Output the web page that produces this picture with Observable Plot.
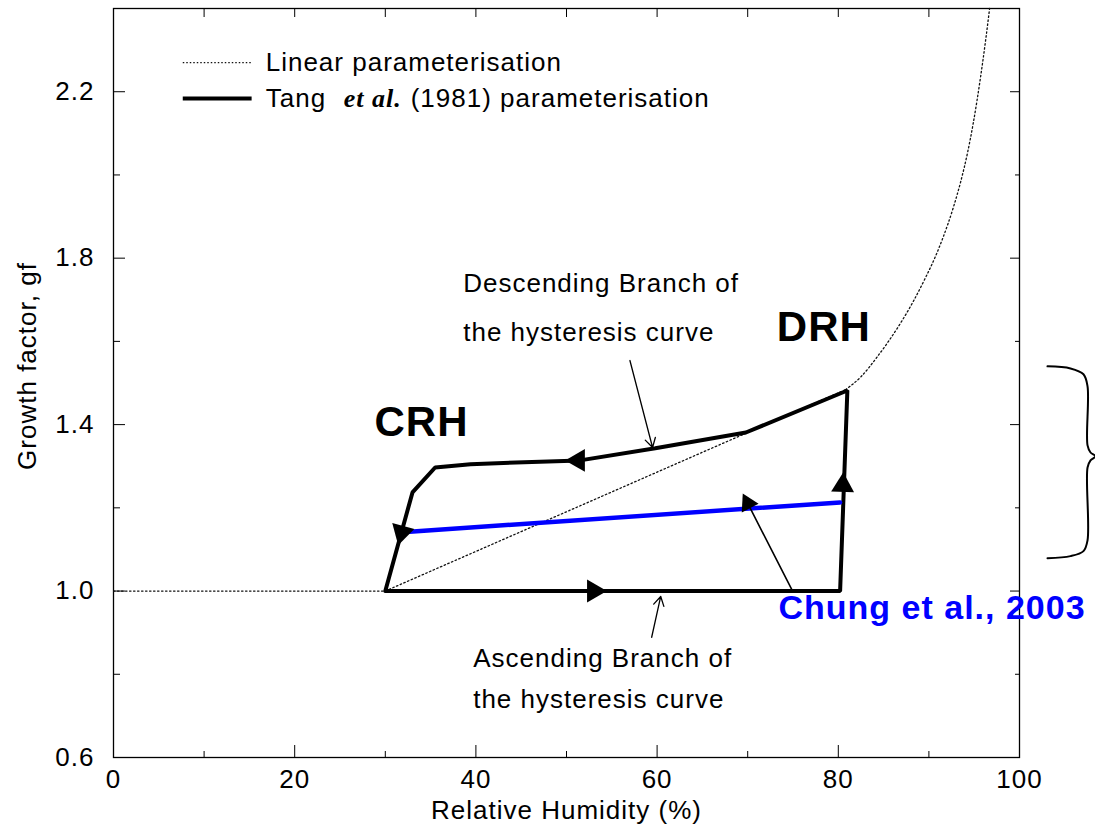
<!DOCTYPE html>
<html><head><meta charset="utf-8">
<script src="https://cdn.jsdelivr.net/npm/d3@7"></script>
<script src="https://cdn.jsdelivr.net/npm/@observablehq/plot@0.6"></script>
<style>
html,body{margin:0;padding:0;background:#fff;}
#chart svg text{letter-spacing:1px;}
#chart g[aria-label="ylabel"] text{letter-spacing:3px;}
#chart g[aria-label="etal"] text{letter-spacing:0;}
</style>
</head><body><div id="chart"></div>
<script>
// Axis ticks
const xMajor = [0, 20, 40, 60, 80, 100];
const xMinor = [10, 30, 50, 70, 90];
const yMajor = [0.6, 1.0, 1.4, 1.8, 2.2];
const yMinor = [0.8, 1.2, 1.6, 2.0];

// Linear parameterisation (dotted): straight part then steep curve
const linearRH = [0, 30, 80.8, 82.5, 84.3, 86.9, 88.3, 89.6, 90.7, 91.6, 92.7, 93.5, 94.3, 94.9, 95.7, 96.3, 96.7];
const linearGF = [1.0, 1.0, 1.484, 1.515, 1.563, 1.645, 1.697, 1.752, 1.803, 1.852, 1.922, 1.983, 2.057, 2.125, 2.235, 2.33, 2.40];
const linearBreakRH = 80.8;

// Tang et al. (1981) hysteresis loop
const tangRH = [30, 80.2, 81.0, 69.8, 59.8, 51.5, 39.4, 35.5, 33.0, 30];
const tangGF = [1.0, 1.0, 1.482, 1.381, 1.343, 1.314, 1.305, 1.297, 1.237, 1.0];

// Chung et al., 2003 (blue)
const chungRH = [31.5, 80.2];
const chungGF = [1.141, 1.213];

// Direction arrowheads on the loop
const loopArrowRH = [51.3, 31.8, 53.0, 80.5];
const loopArrowGF = [1.314, 1.141, 1.0, 1.254];
const loopArrowAngle = [-90, 195, 90, 2];

// Annotation pointers
const pointerFrom = [[57.0, 1.554], [59.4, 0.889]];
const pointerTo = [[59.5, 1.345], [60.4, 0.987]];
const chungPointer = [[74.9, 1.002], [70.0, 1.211]];

// Text annotations
const boldLabels = [{text: "CRH", rh: 34.0, gf: 1.405}, {text: "DRH", rh: 78.4, gf: 1.633}];
const noteLabels = [
  {text: "Descending Branch of", rh: 38.6, gf: 1.739},
  {text: "the hysteresis curve", rh: 38.6, gf: 1.622},
  {text: "Ascending Branch of", rh: 39.7, gf: 0.838},
  {text: "the hysteresis curve", rh: 39.7, gf: 0.738}
];
const chungLabel = {text: "Chung et al., 2003", rh: 73.4, gf: 0.959};

// Legend
const legendRH = [7.7, 15.3];
const legendTextRH = 16.8;
const legendGF = [2.270, 2.184];

// Right-hand brace
const braceRH = [103.09, 105.63, 107.06, 107.51, 107.51, 107.84, 108.39, 107.84, 107.51, 107.51, 107.06, 105.63, 103.09];
const braceGF = [1.540, 1.535, 1.521, 1.492, 1.350, 1.333, 1.324, 1.314, 1.297, 1.122, 1.096, 1.084, 1.079];

const toPts = (xs, ys) => xs.map((x, i) => ({x, y: ys[i]}));
const linear = toPts(linearRH, linearGF);
const linearStraight = linear.filter(d => d.x <= linearBreakRH);
const linearCurve = linear.filter(d => d.x >= linearBreakRH);
const tang = toPts(tangRH, tangGF);
const chung = toPts(chungRH, chungGF);
const loopArrows = loopArrowRH.map((x, i) => ({x, y: loopArrowGF[i], a: loopArrowAngle[i]}));
const pointers = pointerFrom.map((p, i) => ({x1: p[0], y1: p[1], x2: pointerTo[i][0], y2: pointerTo[i][1]}));
const brace = toPts(braceRH, braceGF);

const font = "'Liberation Sans', Arial, Helvetica, sans-serif";
const dotted = {stroke: "#111", strokeWidth: 1.3, strokeDasharray: "1.5 2.5"};

const chart = Plot.plot({
  width: 1095, height: 833,
  marginLeft: 113, marginRight: 76, marginTop: 8, marginBottom: 76,
  x: {domain: [0, 100]},
  y: {domain: [0.6, 2.4]},
  style: {fontFamily: font, fontSize: "26px", background: "#fff", overflow: "visible", color: "#000"},
  marks: [
    Plot.frame({stroke: "#000", strokeWidth: 1.3}),
    Plot.axisX(xMajor, {tickSize: -12, tickPadding: 24, tickFormat: d => String(d), label: null}),
    Plot.axisX(xMinor, {tickSize: -6, tickFormat: () => "", label: null}),
    Plot.axisX([...xMajor, ...xMinor], {anchor: "top", tickSize: -8, tickFormat: () => "", label: null}),
    Plot.axisY(yMajor, {tickSize: -12, tickPadding: 31, tickFormat: d => d.toFixed(1), label: null}),
    Plot.axisY(yMinor, {tickSize: -7, tickFormat: () => "", label: null}),
    Plot.axisY(yMajor, {anchor: "right", tickSize: -10, tickFormat: () => "", label: null}),
    Plot.axisY(yMinor, {anchor: "right", tickSize: -5, tickFormat: () => "", label: null}),
    Plot.text(["Relative Humidity (%)"], {frameAnchor: "bottom", dy: 53, lineAnchor: "middle", fontSize: 26}),
    Plot.text(["Growth factor, gf"], {frameAnchor: "left", dx: -86, dy: -17, rotate: -90, textAnchor: "middle", lineAnchor: "middle", fontSize: 26, ariaLabel: "ylabel"}),

    // Linear parameterisation
    Plot.line(linearStraight, {x: "x", y: "y", ...dotted}),
    Plot.line(linearCurve, {x: "x", y: "y", curve: "monotone-x", ...dotted}),
    // Tang loop
    Plot.line(tang, {x: "x", y: "y", stroke: "#000", strokeWidth: 4, strokeLinejoin: "miter"}),
    // Chung
    Plot.line(chung, {x: "x", y: "y", stroke: "#0000ff", strokeWidth: 4.5}),
    // loop direction arrowheads
    Plot.dot(loopArrows, {x: "x", y: "y", rotate: "a", symbol: "triangle", r: 8.5, fill: "#000", stroke: null}),
    // pointers
    Plot.arrow(pointers, {x1: "x1", y1: "y1", x2: "x2", y2: "y2", stroke: "#000", strokeWidth: 1.3, headLength: 12}),
    Plot.line(chungPointer, {x: d => d[0], y: d => d[1], stroke: "#000", strokeWidth: 1.6}),
    Plot.dot([chungPointer[1]], {x: d => d[0], y: d => d[1], rotate: -27, symbol: "triangle", r: 7, fill: "#000", stroke: null}),

    // labels
    Plot.text(boldLabels, {x: "rh", y: "gf", text: "text", fontSize: 42, fontWeight: "bold", lineAnchor: "middle"}),
    Plot.text(noteLabels, {x: "rh", y: "gf", text: "text", fontSize: 26, textAnchor: "start", lineAnchor: "middle"}),
    Plot.text([chungLabel], {x: "rh", y: "gf", text: "text", fontSize: 34, fontWeight: "bold", fill: "#0000ff", textAnchor: "start", lineAnchor: "middle"}),

    // legend
    Plot.ruleY([legendGF[0]], {x1: legendRH[0], x2: legendRH[1], stroke: "#111", strokeWidth: 1.2, strokeDasharray: "1.5 2"}),
    Plot.ruleY([legendGF[1]], {x1: legendRH[0], x2: legendRH[1], stroke: "#000", strokeWidth: 4}),
    Plot.text(["Linear parameterisation"], {x: legendTextRH, y: legendGF[0], textAnchor: "start", lineAnchor: "middle", fontSize: 26}),
    Plot.text(["Tang"], {x: legendTextRH, y: legendGF[1], textAnchor: "start", lineAnchor: "middle", fontSize: 26}),
    Plot.text(["et al."], {x: legendTextRH, y: legendGF[1], dx: 78, textAnchor: "start", lineAnchor: "middle", fontSize: 26, fontWeight: "bold", fontStyle: "italic", fontFamily: "'Liberation Serif', 'Times New Roman', serif", ariaLabel: "etal"}),
    Plot.text(["(1981) parameterisation"], {x: legendTextRH, y: legendGF[1], dx: 145, textAnchor: "start", lineAnchor: "middle", fontSize: 26}),

    // brace
    Plot.line(brace, {x: "x", y: "y", curve: "catmull-rom", stroke: "#000", strokeWidth: 2})
  ]
});
document.getElementById("chart").appendChild(chart);
</script></body></html>
